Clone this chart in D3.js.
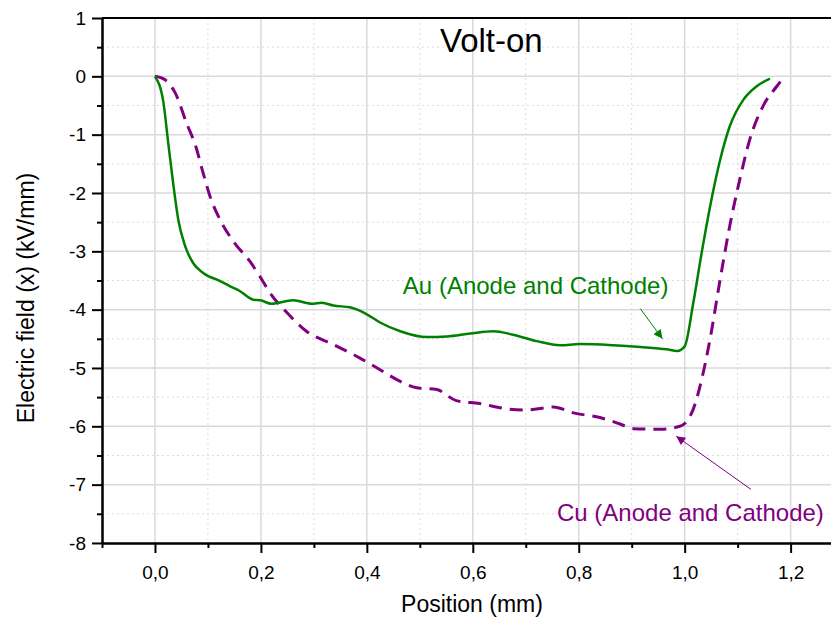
<!DOCTYPE html>
<html>
<head>
<meta charset="utf-8">
<script src="https://cdn.jsdelivr.net/npm/d3@7"></script>
<style>
    body { margin: 0; background: #fff; }
    svg { display: block; font-family: "Liberation Sans", Arial, sans-serif; }
    .grid-major line { stroke: #d9d9d9; stroke-width: 1.5; }
    .grid-minor line { stroke: #dcdcdc; stroke-width: 1; stroke-dasharray: 2,3; }
    .axis path, .axis line { stroke: #000; stroke-width: 2; }
    .axis text { font-size: 19px; fill: #000; font-family: "Liberation Sans", Arial, sans-serif; }
</style>
</head>
<body>
<svg id="chart"></svg>
<script>
// Au (anode and cathode), solid green
const auX = [0, 0.016, 0.025, 0.035, 0.044, 0.057, 0.072, 0.091, 0.123, 0.142, 0.160, 0.186, 0.199, 0.220, 0.261, 0.296, 0.315, 0.337, 0.368, 0.400, 0.425, 0.463, 0.513, 0.551, 0.595, 0.639, 0.676, 0.721, 0.765, 0.802, 0.865, 0.916, 0.966, 0.986, 1.000, 1.016, 1.032, 1.048, 1.067, 1.085, 1.111, 1.136, 1.161];
const auY = [0, -0.45, -1.14, -1.88, -2.46, -2.91, -3.20, -3.37, -3.51, -3.60, -3.68, -3.83, -3.84, -3.90, -3.84, -3.90, -3.88, -3.93, -3.96, -4.08, -4.22, -4.37, -4.47, -4.46, -4.41, -4.37, -4.43, -4.54, -4.61, -4.59, -4.61, -4.64, -4.68, -4.71, -4.63, -3.90, -3.03, -2.23, -1.43, -0.86, -0.40, -0.17, -0.04];

// Cu (anode and cathode), dashed purple
const cuX = [0, 0.019, 0.038, 0.060, 0.077, 0.091, 0.104, 0.123, 0.148, 0.179, 0.198, 0.217, 0.249, 0.286, 0.337, 0.387, 0.425, 0.463, 0.494, 0.532, 0.569, 0.613, 0.664, 0.702, 0.752, 0.790, 0.840, 0.878, 0.903, 0.953, 0.991, 1.016, 1.032, 1.048, 1.067, 1.085, 1.104, 1.123, 1.148, 1.174, 1.186];
const cuY = [0, -0.06, -0.28, -0.81, -1.20, -1.66, -2.06, -2.46, -2.83, -3.17, -3.43, -3.71, -4.05, -4.37, -4.60, -4.83, -5.03, -5.23, -5.34, -5.37, -5.56, -5.61, -5.70, -5.72, -5.67, -5.77, -5.85, -5.96, -6.04, -6.05, -6.00, -5.71, -5.20, -4.50, -3.48, -2.57, -1.77, -1.08, -0.51, -0.17, -0.03];

// tick values
const xMajor = [0, 0.2, 0.4, 0.6, 0.8, 1.0, 1.2];
const xMinor = [-0.1, 0.1, 0.3, 0.5, 0.7, 0.9, 1.1, 1.3];
const yMajor = [1, 0, -1, -2, -3, -4, -5, -6, -7, -8];
const yMinor = [0.5, -0.5, -1.5, -2.5, -3.5, -4.5, -5.5, -6.5, -7.5];

const W = 831, H = 619;
const margin = { top: 18, left: 102 };
const pxPerX = 529.7, pxPerY = 58.33;
const width = 1.4 * pxPerX;   // plot runs past the right edge of the picture
const height = 9 * pxPerY;

const svg = d3.select("#chart").attr("width", W).attr("height", H);
const chart = svg.append("g").attr("transform", `translate(${margin.left},${margin.top})`);

const x = d3.scaleLinear().domain([-0.1, 1.3]).range([0, width]);
const y = d3.scaleLinear().domain([-8, 1]).range([height, 0]);

const fmtX = d => d.toFixed(1).replace(".", ",");
const fmtY = d => String(d);   // plain hyphen minus, like the original

// grid lines
chart.append("g").attr("class", "grid-minor")
    .selectAll("line").data(xMinor).join("line")
    .attr("x1", d => x(d)).attr("x2", d => x(d)).attr("y1", 0).attr("y2", height);
chart.append("g").attr("class", "grid-minor")
    .selectAll("line").data(yMinor).join("line")
    .attr("x1", 0).attr("x2", width).attr("y1", d => y(d)).attr("y2", d => y(d));
chart.append("g").attr("class", "grid-major")
    .selectAll("line").data(xMajor).join("line")
    .attr("x1", d => x(d)).attr("x2", d => x(d)).attr("y1", 0).attr("y2", height);
chart.append("g").attr("class", "grid-major")
    .selectAll("line").data(yMajor.slice(1, -1)).join("line")
    .attr("x1", 0).attr("x2", width).attr("y1", d => y(d)).attr("y2", d => y(d));

// curves
const auData = auX.map((d, i) => [d, auY[i]]);
const cuData = cuX.map((d, i) => [d, cuY[i]]);
const line = d3.line().x(d => x(d[0])).y(d => y(d[1])).curve(d3.curveMonotoneX);

chart.append("path").datum(cuData)
    .attr("fill", "none").attr("stroke", "#800080").attr("stroke-width", 3)
    .attr("stroke-dasharray", "13,8")
    .attr("d", line);

chart.append("path").datum(auData)
    .attr("fill", "none").attr("stroke", "#008000").attr("stroke-width", 2.5)
    .attr("d", line);

// axes: minor ticks first, then major with labels
chart.append("g").attr("class", "axis")
    .attr("transform", `translate(0,${height})`)
    .call(d3.axisBottom(x).tickValues(xMinor).tickSize(5).tickFormat("").tickSizeOuter(0));
chart.append("g").attr("class", "axis")
    .attr("transform", `translate(0,${height})`)
    .call(d3.axisBottom(x).tickValues(xMajor).tickSize(10).tickPadding(13).tickFormat(fmtX).tickSizeOuter(0));
chart.append("g").attr("class", "axis")
    .call(d3.axisLeft(y).tickValues(yMinor).tickSize(5).tickFormat("").tickSizeOuter(0));
chart.append("g").attr("class", "axis")
    .call(d3.axisLeft(y).tickValues(yMajor).tickSize(10).tickPadding(6).tickFormat(fmtY).tickSizeOuter(0));

// top frame
chart.append("line")
    .attr("x1", 0).attr("x2", width).attr("y1", 0).attr("y2", 0)
    .attr("stroke", "#000").attr("stroke-width", 2);

// axis titles
svg.append("text")
    .attr("x", 472).attr("y", 612)
    .attr("text-anchor", "middle").style("font-size", "23px")
    .text("Position (mm)");

svg.append("text")
    .attr("transform", "translate(34,298) rotate(-90)")
    .attr("text-anchor", "middle").style("font-size", "23px")
    .text("Electric field (x) (kV/mm)");

// title
chart.append("text")
    .attr("x", x(0.635)).attr("y", y(0.42))
    .attr("text-anchor", "middle").style("font-size", "33px")
    .text("Volt-on");

// arrow heads
const defs = svg.append("defs");
[["arrowAu", "#008000"], ["arrowCu", "#800080"]].forEach(([id, c]) => {
    defs.append("marker")
        .attr("id", id).attr("viewBox", "0 0 10 10")
        .attr("refX", 10).attr("refY", 5)
        .attr("markerWidth", 12).attr("markerHeight", 9)
        .attr("markerUnits", "userSpaceOnUse")
        .attr("orient", "auto")
        .append("path").attr("d", "M0,0L10,5L0,10Z").attr("fill", c);
});

// annotations
chart.append("text")
    .attr("x", x(0.468)).attr("y", y(-3.74))
    .attr("fill", "#008000").style("font-size", "24px")
    .text("Au (Anode and Cathode)");
chart.append("line")
    .attr("x1", x(0.916)).attr("y1", y(-3.98))
    .attr("x2", x(0.958)).attr("y2", y(-4.50))
    .attr("stroke", "#008000").attr("stroke-width", 1)
    .attr("marker-end", "url(#arrowAu)");

chart.append("text")
    .attr("x", x(0.759)).attr("y", y(-7.63))
    .attr("fill", "#800080").style("font-size", "24px")
    .text("Cu (Anode and Cathode)");
chart.append("line")
    .attr("x1", x(1.125)).attr("y1", y(-7.08))
    .attr("x2", x(0.984)).attr("y2", y(-6.17))
    .attr("stroke", "#800080").attr("stroke-width", 1)
    .attr("marker-end", "url(#arrowCu)");
</script>
</body>
</html>
